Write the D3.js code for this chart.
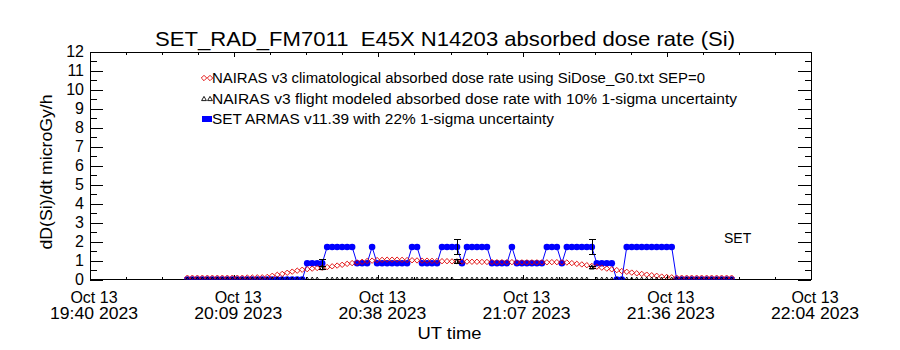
<!DOCTYPE html>
<html><head><meta charset="utf-8">
<script src="https://cdn.jsdelivr.net/npm/d3@7"></script>
<style>body{margin:0;background:#fff} svg{display:block}</style>
</head><body><svg id="c" width="900" height="350"></svg>
<script>
// ---------- data ----------
const chartTitle = "SET_RAD_FM7011  E45X N14203 absorbed dose rate (Si)";
const yLabel = "dD(Si)/dt microGy/h";
const xLabel = "UT time";
const cornerLabel = "SET";
const legendLabels = [
  "NAIRAS v3 climatological absorbed dose rate using SiDose_G0.txt SEP=0",
  "NAIRAS v3 flight modeled absorbed dose rate with 10% 1-sigma uncertainty",
  "SET ARMAS v11.39 with 22% 1-sigma uncertainty"
];
const yTicks = [0,1,2,3,4,5,6,7,8,9,10,11,12];
const xTickLabels = [
  ["Oct 13","19:40 2023"],["Oct 13","20:09 2023"],["Oct 13","20:38 2023"],
  ["Oct 13","21:07 2023"],["Oct 13","21:36 2023"],["Oct 13","22:04 2023"]
];
const axisStartUTC = "2023-10-13T19:40:00Z";
const axisSpanMinutes = 144.4;
const sampleStartMinute = 19.5;   // first sample, minutes after axis start, 1-min cadence

// NAIRAS climatological (red diamonds)
const nairasClim = [
  0.10,0.10,0.10,0.10,0.10,0.10,0.10,0.10,0.10,0.10,0.10,0.10,0.11,0.11,0.12,0.12,
  0.14,0.20,0.25,0.30,0.36,0.42,0.47,0.52,0.55,0.58,0.61,0.63,0.66,0.70,0.74,0.78,0.83,0.87,0.90,0.94,0.98,1.00,
  1.03,1.04,1.05,1.05,1.05,1.04,1.03,
  1.02,1.01,1.00,1.00,0.99,0.98,
  0.97,0.97,0.96,0.96,0.95,0.95,
  0.94,0.94,0.93,0.93,0.93,0.92,0.92,0.92,0.92,0.91,0.91,0.91,0.91,0.91,0.91,
  0.91,0.92,0.92,0.91,
  0.90,0.87,0.83,0.80,0.76,0.72,0.68,0.63,0.58,0.54,0.50,0.45,0.41,0.37,0.33,0.30,0.26,0.23,0.20,0.16,0.14,0.12,
  0.10,0.10,0.10,0.10,0.10,0.10,0.10,0.10,0.10,0.10,0.10,0.10
];
// SET ARMAS (blue)
const armas = [
  0,0,0,0,0,0,0,0,0,0,0,0,0,0,0,0,0,0,0,0,0,0,0,0,
  0.86,0.86,0.86,0.86,
  1.72,1.72,1.72,1.72,1.72,1.72,
  0.86,0.86,0.86,
  1.72,
  0.86,0.86,0.86,0.86,0.86,0.86,0.86,
  1.72,1.72,
  0.86,0.86,0.86,0.86,
  1.72,1.72,1.72,1.72,
  0.86,
  1.72,1.72,1.72,1.72,1.72,
  0.86,0.86,0.86,0.86,
  1.72,
  0.86,0.86,0.86,0.86,0.86,0.86,
  1.72,1.72,1.72,
  0.86,
  1.72,1.72,1.72,1.72,1.72,1.72,
  0.86,0.86,0.86,0.86,
  0,0,
  1.72,1.72,1.72,1.72,1.72,1.72,1.72,1.72,1.72,1.72,
  0,0,0,0,0,0,0,0,0,0,0,0
];
// NAIRAS flight modeled (black triangles)
const nairasFlight = [
  0,0,0,0,0,0,0,0,0,0,0,0,0,0,0,0,0,0,0,0,0,0,0,0,0,0,0,0.61,0,0,
  0,0,0,0,0,0,0,0,0,0,0,0,0,0,0,0,0,0,0,0,0,0,0,0,0.95,0,0,0,0,0,
  0,0,0,0,0,0,0,0,0,0,0,0,0,0,0,0,0,0,0,0,0,0.64,0,0,0,0,0,0,0,0,
  0,0,0,0,0,0,0,0,0,0,0,0,0,0,0,0,0,0,0,0
];
const armasErrFrac = 0.22, flightErrFrac = 0.10;

// ---------- layout ----------
const svg = d3.select("#c");
const L = 90, R = 811, T = 52, B = 279.6;
const FONT = "'Liberation Sans', Arial, sans-serif";
const t0 = new Date(axisStartUTC);
const t1 = new Date(+t0 + axisSpanMinutes * 60000);
const x = d3.scaleUtc().domain([t0, t1]).range([L, R]);
const y = d3.scaleLinear().domain([0, 12]).range([B, T]);
const timeAt = i => new Date(+t0 + (sampleStartMinute + i) * 60000);

const rows = armas.map((v, i) => ({t: timeAt(i), armas: v, clim: nairasClim[i], flight: nairasFlight[i]}));

svg.append("defs").append("clipPath").attr("id", "clip")
  .append("rect").attr("x", L).attr("y", T).attr("width", R - L).attr("height", B - T);

// axes ticks
const majorX = d3.range(6).map(i => new Date(+t0 + i * (t1 - t0) / 5));
const minorX = d3.range(21).filter(i => i % 4 !== 0).map(i => new Date(+t0 + i * (t1 - t0) / 20));
const minorY = d3.range(0.5, 12, 1);

function styleAxis(g) {
  g.select(".domain").remove();
  g.selectAll("line").attr("stroke", "#000").attr("shape-rendering", "crispEdges");
}
svg.append("g").attr("transform", `translate(0,${B})`)
  .call(d3.axisBottom(x).tickValues(majorX).tickSize(-5).tickSizeOuter(0).tickFormat("")).call(styleAxis);
svg.append("g").attr("transform", `translate(0,${B})`)
  .call(d3.axisBottom(x).tickValues(minorX).tickSize(-2.5).tickSizeOuter(0).tickFormat("")).call(styleAxis);
svg.append("g").attr("transform", `translate(0,${T})`)
  .call(d3.axisTop(x).tickValues(majorX).tickSize(-5).tickSizeOuter(0).tickFormat("")).call(styleAxis);
svg.append("g").attr("transform", `translate(0,${T})`)
  .call(d3.axisTop(x).tickValues(minorX).tickSize(-2.5).tickSizeOuter(0).tickFormat("")).call(styleAxis);

const yAxisL = svg.append("g").attr("transform", `translate(${L},0)`)
  .call(d3.axisLeft(y).tickValues(yTicks).tickSize(-13).tickSizeOuter(0).tickPadding(6).tickFormat(d => String(d)));
yAxisL.call(styleAxis);
yAxisL.selectAll("text").attr("font-family", FONT).attr("font-size", 16).attr("fill", "#000")
  .attr("dy", "0.28em");
svg.append("g").attr("transform", `translate(${L},0)`)
  .call(d3.axisLeft(y).tickValues(minorY).tickSize(-6.5).tickSizeOuter(0).tickFormat("")).call(styleAxis);
svg.append("g").attr("transform", `translate(${R},0)`)
  .call(d3.axisRight(y).tickValues(yTicks).tickSize(-13).tickSizeOuter(0).tickFormat("")).call(styleAxis);
svg.append("g").attr("transform", `translate(${R},0)`)
  .call(d3.axisRight(y).tickValues(minorY).tickSize(-6.5).tickSizeOuter(0).tickFormat("")).call(styleAxis);

// frame
svg.append("rect").attr("x", L).attr("y", T).attr("width", R - L).attr("height", B - T)
  .attr("fill", "none").attr("stroke", "#000").attr("shape-rendering", "crispEdges");

// x tick labels
const xl = svg.append("g").attr("font-family", FONT).attr("font-size", 16).attr("text-anchor", "middle");
majorX.forEach((d, i) => {
  const cx = x(d) + 4;
  xl.append("text").attr("x", cx).attr("y", 303).text(xTickLabels[i][0]);
  xl.append("text").attr("x", cx).attr("y", 319).attr("textLength", 88)
    .attr("lengthAdjust", "spacingAndGlyphs").text(xTickLabels[i][1]);
});
svg.append("text").attr("x", (L + R) / 2 - 1).attr("y", 339).attr("text-anchor", "middle")
  .attr("font-family", FONT).attr("font-size", 16).attr("textLength", 64)
  .attr("lengthAdjust", "spacingAndGlyphs").text(xLabel);

// y label
svg.append("text").attr("transform", "translate(52,172) rotate(-90)").attr("text-anchor", "middle")
  .attr("font-family", FONT).attr("font-size", 16).attr("textLength", 155)
  .attr("lengthAdjust", "spacingAndGlyphs").text(yLabel);

// title
svg.append("text").attr("x", 445).attr("y", 46).attr("text-anchor", "middle")
  .attr("font-family", FONT).attr("font-size", 21).style("white-space", "pre")
  .attr("textLength", 580).attr("lengthAdjust", "spacingAndGlyphs").text(chartTitle);

// plot content
const plot = svg.append("g").attr("clip-path", "url(#clip)");
const diamond = "M0,-2.7L2.7,0L0,2.7L-2.7,0Z";
const tri = "M0,-2.6L2.4,1.6L-2.4,1.6Z";

plot.append("path").datum(rows).attr("fill", "none").attr("stroke", "#0000ff").attr("stroke-width", 1)
  .attr("d", d3.line().x(d => x(d.t)).y(d => y(d.armas)));
plot.selectAll("circle.armas").data(rows).join("circle").attr("class", "armas")
  .attr("cx", d => x(d.t)).attr("cy", d => y(d.armas)).attr("r", 3.3).attr("fill", "#0000ff");
plot.selectAll("path.clim").data(rows).join("path").attr("class", "clim")
  .attr("transform", d => `translate(${x(d.t)},${y(d.clim)})`).attr("d", diamond)
  .attr("fill", "none").attr("stroke", "#e00000").attr("stroke-width", 0.9);
plot.selectAll("path.flight").data(rows).join("path").attr("class", "flight")
  .attr("transform", d => `translate(${x(d.t)},${y(d.flight)})`).attr("d", tri)
  .attr("fill", "none").attr("stroke", "#000").attr("stroke-width", 0.9);

// error bars where flight model is available
const errRows = rows.filter(d => d.flight > 0);
function errBar(g, cx, lo, hi) {
  g.append("line").attr("x1", cx).attr("x2", cx).attr("y1", y(lo)).attr("y2", y(hi));
  g.append("line").attr("x1", cx - 3.5).attr("x2", cx + 3.5).attr("y1", y(lo)).attr("y2", y(lo));
  g.append("line").attr("x1", cx - 3.5).attr("x2", cx + 3.5).attr("y1", y(hi)).attr("y2", y(hi));
}
const eg = plot.append("g").attr("stroke", "#000").attr("stroke-width", 1).attr("shape-rendering", "crispEdges");
errRows.forEach(d => {
  const cx = Math.round(x(d.t)) + 0.5;
  errBar(eg, cx, d.armas * (1 - armasErrFrac), d.armas * (1 + armasErrFrac));
  errBar(eg, cx, d.flight * (1 - flightErrFrac), d.flight * (1 + flightErrFrac));
});

// legend
const lg = svg.append("g").attr("font-family", FONT).attr("font-size", 14);
const legY = [78, 99, 119], legW = [493, 525, 342];
[204, 210].forEach(sx => {
  lg.append("path").attr("transform", `translate(${sx},${legY[0]})`).attr("d", diamond)
    .attr("fill", "none").attr("stroke", "#e00000").attr("stroke-width", 0.9);
  lg.append("path").attr("transform", `translate(${sx},${legY[1]})`).attr("d", tri)
    .attr("fill", "none").attr("stroke", "#000").attr("stroke-width", 0.9);
});
lg.append("rect").attr("x", 202).attr("y", legY[2] - 3).attr("width", 10).attr("height", 6).attr("fill", "#0000ff");
legendLabels.forEach((s, i) => {
  lg.append("text").attr("x", 212).attr("y", legY[i] + 5).attr("textLength", legW[i])
    .attr("lengthAdjust", "spacingAndGlyphs").text(s);
});

svg.append("text").attr("x", 724).attr("y", 243).attr("font-family", FONT).attr("font-size", 14).text(cornerLabel);
</script></body></html>
